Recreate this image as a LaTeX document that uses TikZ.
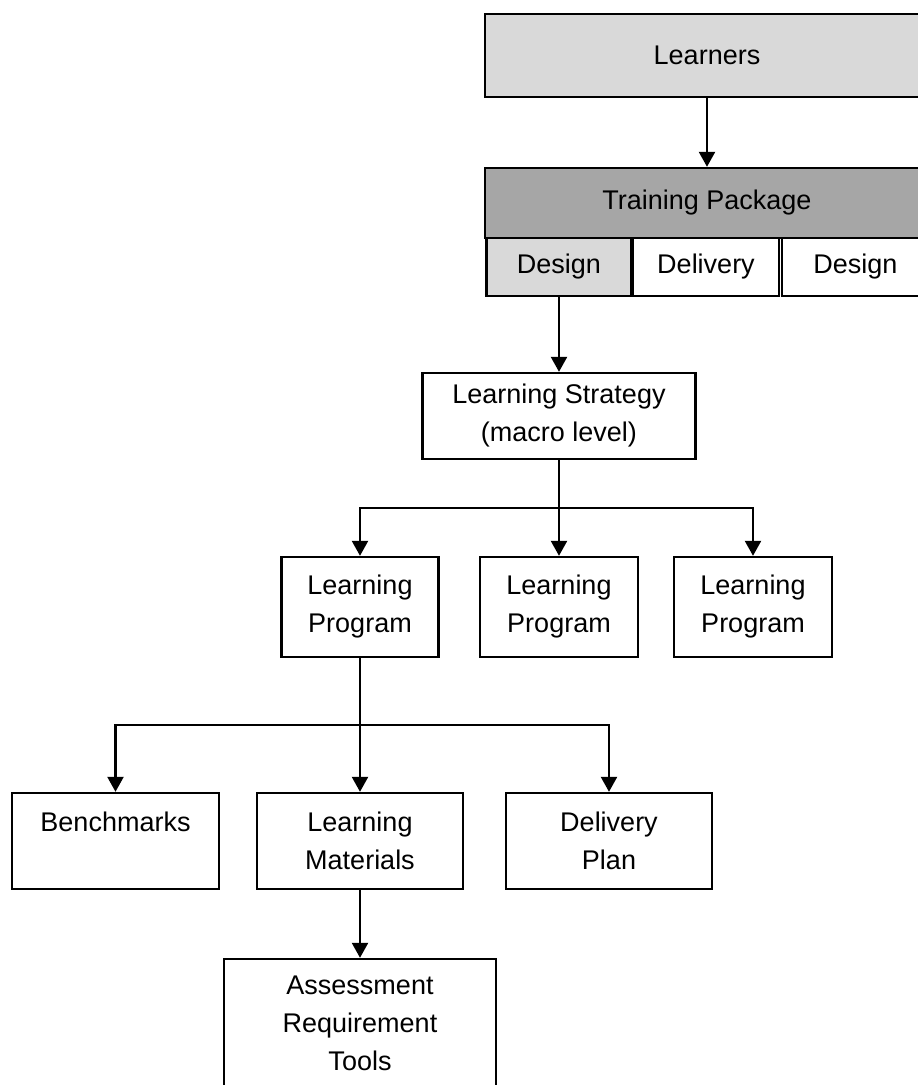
\documentclass[tikz,border=0pt]{standalone}
\usepackage{fontspec}
\setmainfont{Liberation Sans}
\usetikzlibrary{arrows.meta}
\definecolor{lightgrey}{HTML}{D9D9D9}
\definecolor{midgrey}{HTML}{A6A6A6}
\tikzset{
  box/.style={draw=black, line width=2.4pt, inner sep=0pt, align=center,
    font=\fontsize{27}{38}\selectfont},
  arr/.style={line width=2.4pt, -{Triangle[width=16pt,length=15pt]}},
}
\begin{document}
\begin{tikzpicture}[x=1pt,y=-1pt]
\clip (0,0) rectangle (918,1085);
\fill[white] (0,0) rectangle (918,1085);
% top
\node[box, fill=lightgrey, minimum width=444pt, minimum height=83pt] (learners) at (707,55.5) {Learners};
\node[box, fill=midgrey, minimum width=444pt, minimum height=70pt] (tp) at (707,203) {Training Package};
\node[box, fill=lightgrey, minimum width=145pt, minimum height=58pt] (des1) at (559,267) {Design};
\node[box, fill=white, minimum width=146pt, minimum height=58pt] (deliv) at (706,267) {Delivery};
\node[box, fill=white, minimum width=147pt, minimum height=58pt] (des2) at (855.5,267) {Design};
% strategy
\node[box, minimum width=273pt, minimum height=86pt] (strat) at (559,416) {Learning Strategy\\(macro level)};
% programs
\node[box, minimum width=157pt, minimum height=100pt] (lp1) at (360,607) {Learning\\Program};
\node[box, minimum width=158pt, minimum height=100pt] (lp2) at (559,607) {Learning\\Program};
\node[box, minimum width=158pt, minimum height=100pt] (lp3) at (753,607) {Learning\\Program};
% third level
\node[box, minimum width=207pt, minimum height=96pt] (bench) at (115.5,841) {Benchmarks\\[0pt]\mbox{}};
\node[box, minimum width=206pt, minimum height=96pt] (lm) at (360,841) {Learning\\Materials};
\node[box, minimum width=206pt, minimum height=96pt] (dp) at (609,841) {Delivery\\Plan};
\node[box, minimum width=272pt, minimum height=128pt] (arq) at (360,1023) {Assessment\\Requirement\\Tools};
% junctions
\coordinate (j1) at (559,508);
\coordinate (j2) at (360,725);
% connectors
\draw[arr] (learners.south) -- (tp.north);
\draw[arr] (des1.south) -- (strat.north);
\draw[arr] (strat.south) -- (lp2.north);
\draw[arr] (j1) -| (lp1.north);
\draw[arr] (j1) -| (lp3.north);
\draw[arr] (lp1.south) -- (lm.north);
\draw[arr] (j2) -| (bench.north);
\draw[arr] (j2) -| (dp.north);
\draw[arr] (lm.south) -- (arq.north);
\end{tikzpicture}
\end{document}
